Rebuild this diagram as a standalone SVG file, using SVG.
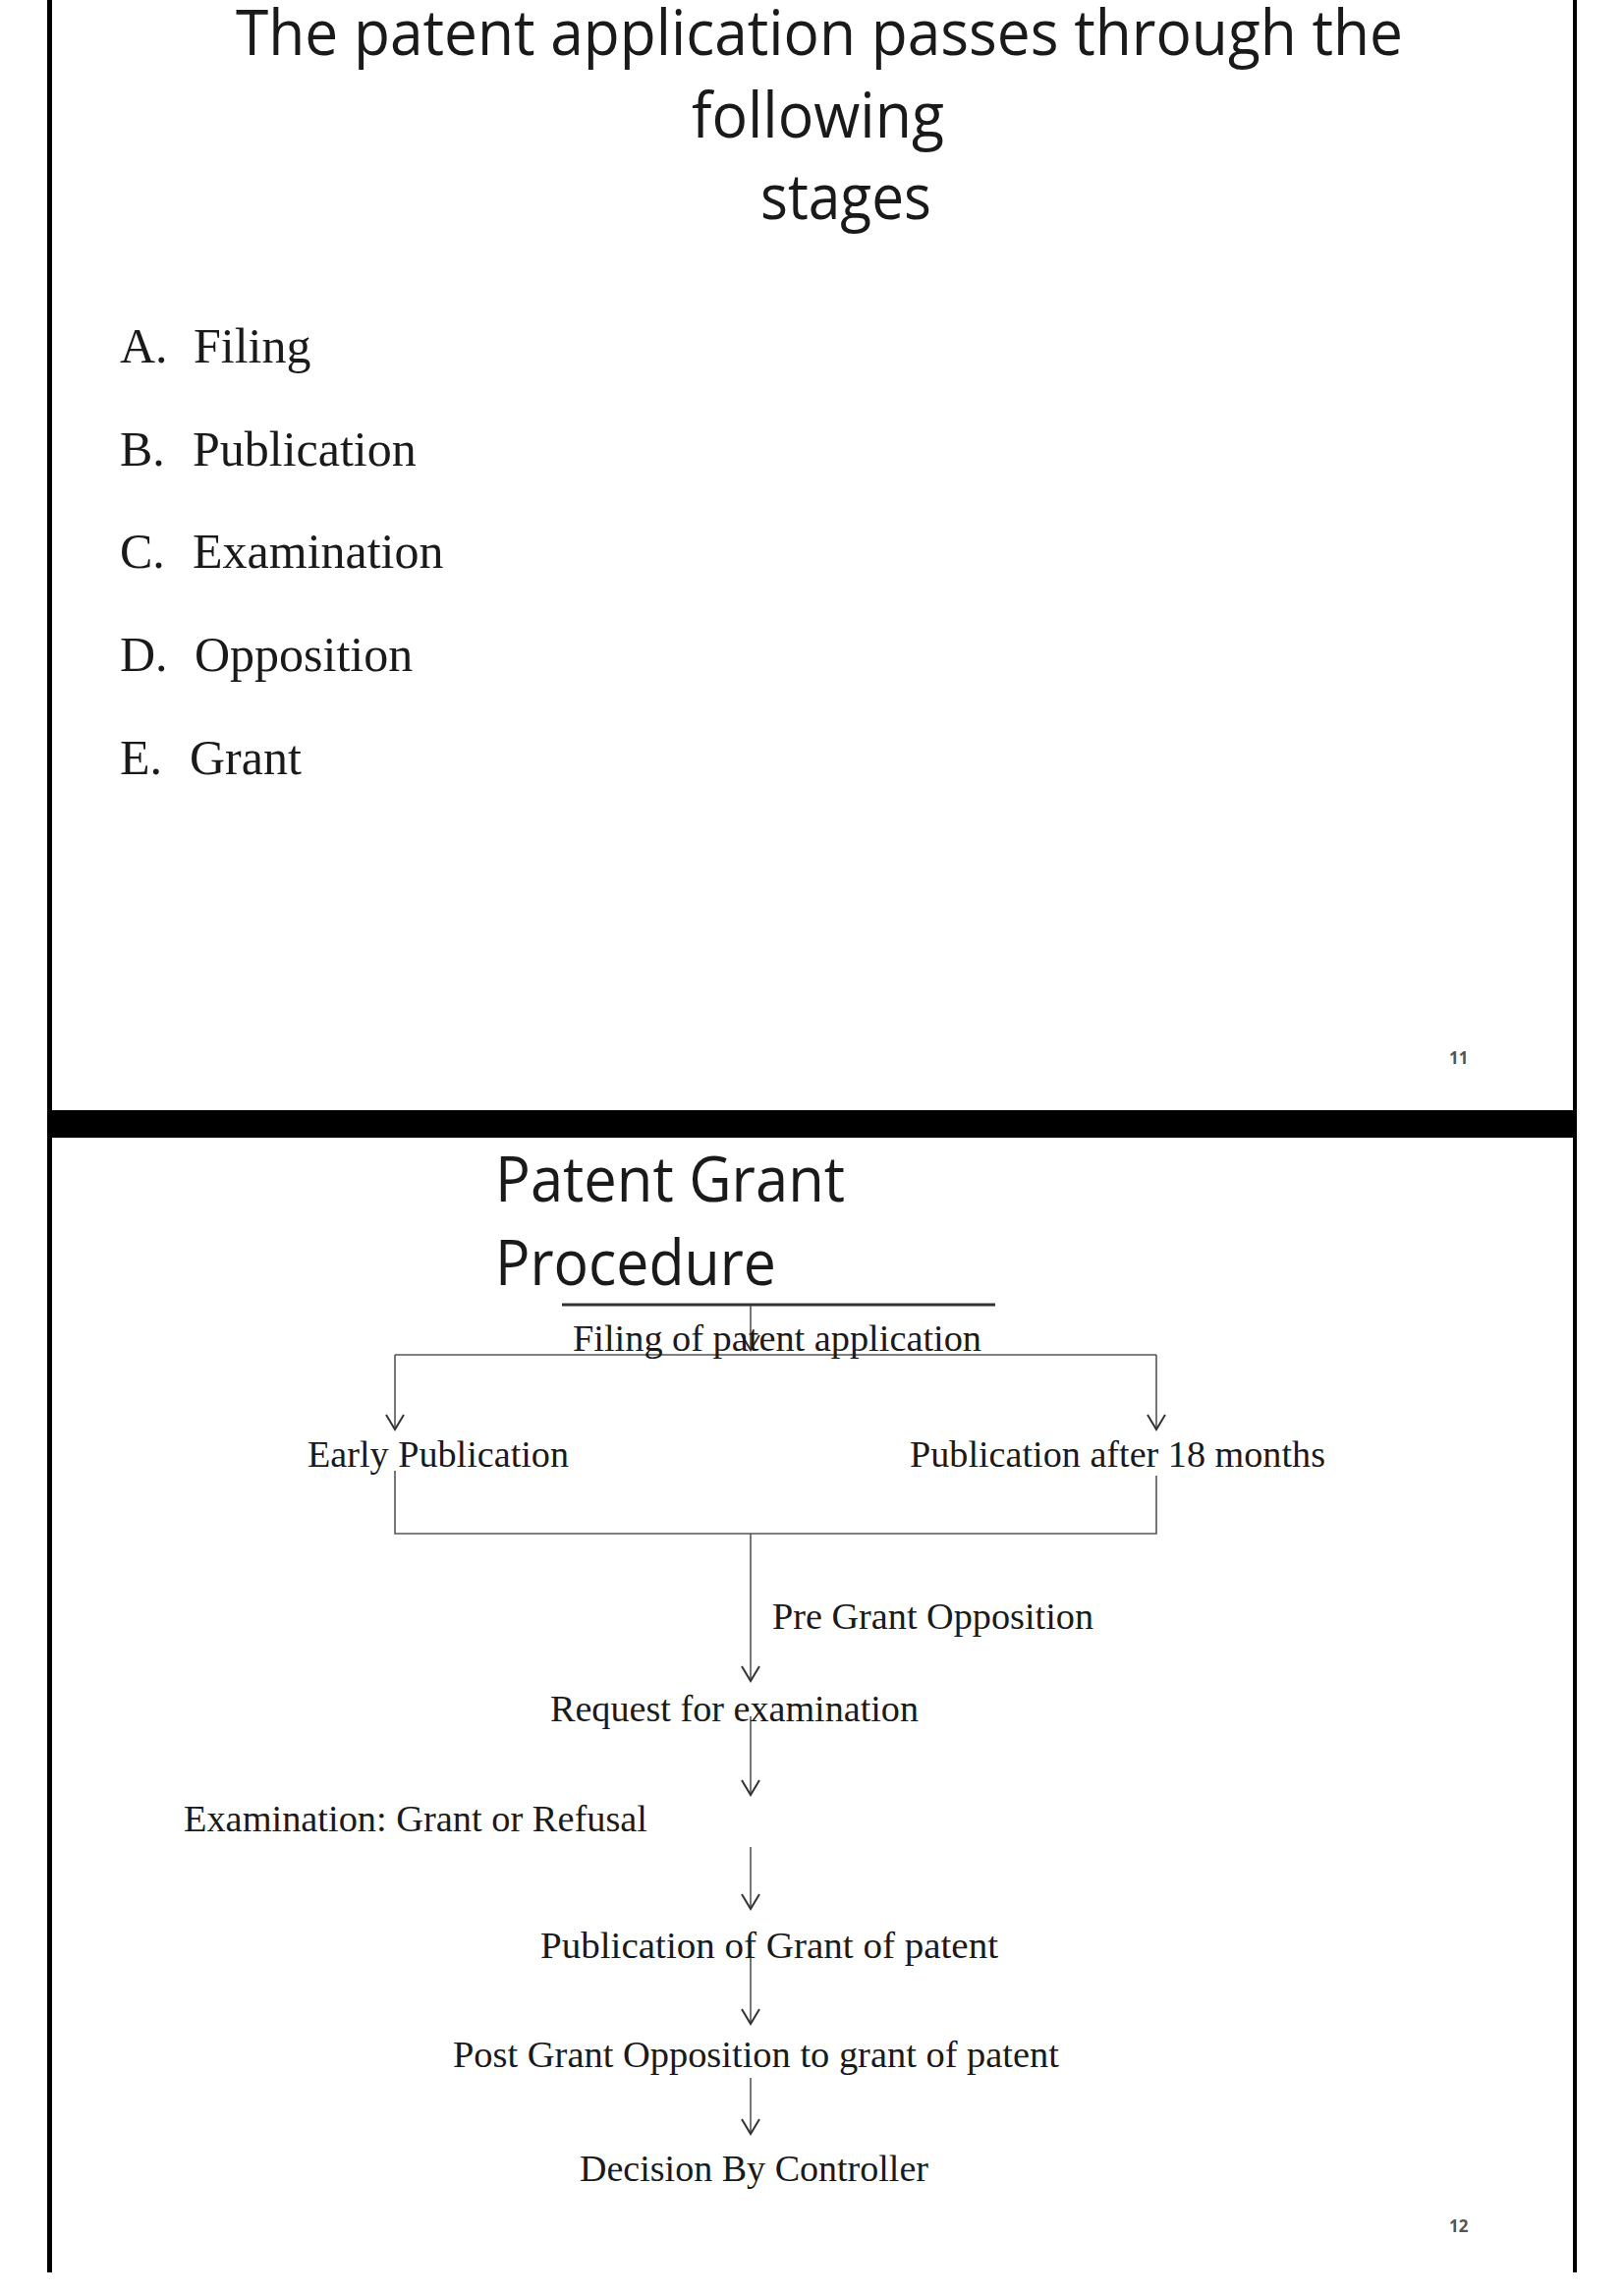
<svg xmlns="http://www.w3.org/2000/svg" width="1653" height="2337" viewBox="0 0 1653 2337">
<style>
.title{font-family:"Open Sans","Liberation Sans",sans-serif;font-size:64px;fill:#1a1a1a}
.item{font-family:"Liberation Serif","Times New Roman",serif;font-size:50px;fill:#1a1a1a}
.lbl{font-family:"Liberation Serif","Times New Roman",serif;font-size:37px;fill:#1a1a1a}
.pg{font-family:"Open Sans","Liberation Sans",sans-serif;font-size:17px;font-weight:bold;fill:#555}
.conn{stroke:#555;stroke-width:1.6;fill:none}
</style>
<defs>
<marker id="chev" markerUnits="userSpaceOnUse" viewBox="-17 -11 19 22" markerWidth="19" markerHeight="22" refX="0" refY="0" orient="auto" overflow="visible">
<path d="M-15,-9 L0,0 L-15,9" fill="none" stroke="#333" stroke-width="2"/>
</marker>
</defs>
<rect x="0" y="0" width="1653" height="2337" fill="#fff"/>
<g id="frame">
<rect x="48" y="0" width="5" height="2313" fill="#000"/>
<rect x="1601" y="0" width="4" height="2313" fill="#000"/>
<rect x="48" y="1130" width="1557" height="28" fill="#000"/>
</g>
<g id="slide11">
<text class="title" x="240" y="56" font-size="62" textLength="1188" lengthAdjust="spacingAndGlyphs">The patent application passes through the</text>
<text class="title" x="704" y="140" textLength="257" lengthAdjust="spacingAndGlyphs">following</text>
<text class="title" x="774" y="223" textLength="174" lengthAdjust="spacingAndGlyphs">stages</text>
<g id="item-a"><text class="item" x="122" y="369">A.</text><text class="item" x="197" y="369">Filing</text></g>
<g id="item-b"><text class="item" x="122" y="474">B.</text><text class="item" x="196" y="474">Publication</text></g>
<g id="item-c"><text class="item" x="122" y="578">C.</text><text class="item" x="196" y="578">Examination</text></g>
<g id="item-d"><text class="item" x="122" y="683">D.</text><text class="item" x="198" y="683">Opposition</text></g>
<g id="item-e"><text class="item" x="122" y="788">E.</text><text class="item" x="193" y="788">Grant</text></g>
<text class="pg" x="1475" y="1083">11</text>
</g>
<g id="slide12">
<text class="title" x="504" y="1223" textLength="356" lengthAdjust="spacingAndGlyphs">Patent Grant</text>
<text class="title" x="504" y="1308" textLength="286" lengthAdjust="spacingAndGlyphs">Procedure</text>
<text class="pg" x="1475" y="2272">12</text>
</g>
<g id="connectors">
<line x1="572" y1="1328" x2="1013" y2="1328" stroke="#333" stroke-width="3"/>
<line class="conn" x1="764" y1="1329" x2="764" y2="1374" marker-end="url(#chev)"/>
<line class="conn" x1="402" y1="1379" x2="1177" y2="1379"/>
<line class="conn" x1="402" y1="1379" x2="402" y2="1455" marker-end="url(#chev)"/>
<line class="conn" x1="1177" y1="1379" x2="1177" y2="1455" marker-end="url(#chev)"/>
<polyline class="conn" points="402,1497 402,1561 1177,1561 1177,1502"/>
<line class="conn" x1="764" y1="1561" x2="764" y2="1711" marker-end="url(#chev)"/>
<line class="conn" x1="764" y1="1747" x2="764" y2="1827" marker-end="url(#chev)"/>
<line class="conn" x1="764" y1="1880" x2="764" y2="1943" marker-end="url(#chev)"/>
<line class="conn" x1="764" y1="1977" x2="764" y2="2060" marker-end="url(#chev)"/>
<line class="conn" x1="764" y1="2115" x2="764" y2="2172" marker-end="url(#chev)"/>
</g>
<g id="node-filing"><text class="lbl" x="583" y="1375" textLength="416" lengthAdjust="spacingAndGlyphs">Filing of patent application</text></g>
<g id="node-early"><text class="lbl" x="313" y="1493" textLength="266" lengthAdjust="spacingAndGlyphs">Early Publication</text></g>
<g id="node-after18"><text class="lbl" x="926" y="1493" textLength="423" lengthAdjust="spacingAndGlyphs">Publication after 18 months</text></g>
<g id="node-pregrant"><text class="lbl" x="786" y="1658" textLength="327" lengthAdjust="spacingAndGlyphs">Pre Grant Opposition</text></g>
<g id="node-request"><text class="lbl" x="560" y="1752" textLength="375" lengthAdjust="spacingAndGlyphs">Request for examination</text></g>
<g id="node-exam"><text class="lbl" x="187" y="1864" textLength="472" lengthAdjust="spacingAndGlyphs">Examination: Grant or Refusal</text></g>
<g id="node-pubgrant"><text class="lbl" x="550" y="1993" textLength="466" lengthAdjust="spacingAndGlyphs">Publication of Grant of patent</text></g>
<g id="node-postgrant"><text class="lbl" x="461" y="2104" textLength="617" lengthAdjust="spacingAndGlyphs">Post Grant Opposition to grant of patent</text></g>
<g id="node-decision"><text class="lbl" x="590" y="2220" textLength="355" lengthAdjust="spacingAndGlyphs">Decision By Controller</text></g>
</svg>
